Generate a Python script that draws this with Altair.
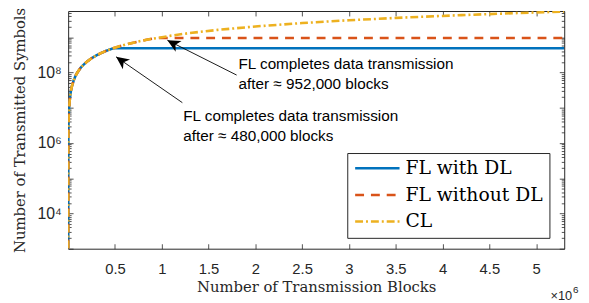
import altair as alt
import pandas as pd

# ---------------- data ----------------
series_names = ["FL with DL", "FL without DL", "CL"]
series_colors = ["#0072BD", "#D95319", "#EDB120"]
series_dashes = [[1, 0], [9, 7], [8, 3, 2, 3]]

# Cumulative transmitted symbols vs. number of transmission blocks
fl_dl_blocks = [1, 1000, 3000, 6000, 10000, 15000, 20000, 30000, 40000, 60000,
                80000, 100000, 130000, 160000, 200000, 250000, 300000, 350000,
                400000, 480000, 5300000]
fl_dl_symbols = [1.02e3, 1.0e6, 3.1e6, 6.1e6, 1.0e7, 1.5e7, 2.0e7, 3.1e7, 4.1e7, 6.1e7,
                 8.2e7, 1.02e8, 1.33e8, 1.63e8, 2.04e8, 2.55e8, 3.06e8, 3.57e8,
                 4.08e8, 4.9e8, 4.9e8]

fl_nodl_blocks = [1, 1000, 3000, 6000, 10000, 15000, 20000, 30000, 40000, 60000,
                  80000, 100000, 130000, 160000, 200000, 250000, 300000, 350000,
                  400000, 480000, 550000, 650000, 750000, 850000, 952000, 5300000]
fl_nodl_symbols = [1.02e3, 1.0e6, 3.1e6, 6.1e6, 1.0e7, 1.5e7, 2.0e7, 3.1e7, 4.1e7, 6.1e7,
                   8.2e7, 1.02e8, 1.33e8, 1.63e8, 2.04e8, 2.55e8, 3.06e8, 3.57e8,
                   4.08e8, 4.9e8, 5.6e8, 6.6e8, 7.6e8, 8.7e8, 9.6e8, 9.6e8]

cl_blocks = [1, 1000, 3000, 6000, 10000, 15000, 20000, 30000, 40000, 60000,
             80000, 100000, 130000, 160000, 200000, 250000, 300000, 350000,
             400000, 480000, 550000, 650000, 750000, 850000, 952000, 1100000,
             1300000, 1600000, 2000000, 2500000, 3000000, 3600000, 4200000,
             4800000, 5300000]
cl_symbols = [1.02e3, 1.0e6, 3.1e6, 6.1e6, 1.0e7, 1.5e7, 2.0e7, 3.1e7, 4.1e7, 6.1e7,
              8.2e7, 1.02e8, 1.33e8, 1.63e8, 2.04e8, 2.55e8, 3.06e8, 3.57e8,
              4.08e8, 4.9e8, 5.6e8, 6.6e8, 7.6e8, 8.7e8, 9.6e8, 1.12e9,
              1.33e9, 1.63e9, 2.04e9, 2.55e9, 3.06e9, 3.67e9, 4.28e9,
              4.9e9, 5.4e9]

# axis ticks
x_ticks = [500000, 1000000, 1500000, 2000000, 2500000, 3000000, 3500000,
           4000000, 4500000, 5000000]
y_major = [1e3, 1e4, 1e5, 1e6, 1e7, 1e8, 1e9]
y_minor = [m * 10.0 ** k for k in range(3, 10) for m in range(2, 10) if m * 10.0 ** k <= 5.5e9]

# annotations (data coordinates)
arrow_tail_x = [1800000, 1220000]
arrow_tail_y = [8.5e7, 1.4e7]
arrow_tip_x = [1060000, 512000]
arrow_tip_y = [8.3e8, 2.8e8]
arrow_angle = [299, 306]

note_x = [1820000, 1820000, 1230000, 1230000]
note_y = [1.75e8, 4.6e7, 6.0e6, 1.56e6]
note_text = ["FL completes data transmission", "after \u2248 952,000 blocks",
             "FL completes data transmission", "after \u2248 480,000 blocks"]

# ---------------- build tables ----------------
frames = []
for name, bx, sy in [(series_names[0], fl_dl_blocks, fl_dl_symbols),
                     (series_names[1], fl_nodl_blocks, fl_nodl_symbols),
                     (series_names[2], cl_blocks, cl_symbols)]:
    frames.append(pd.DataFrame({"blocks": bx, "symbols": sy, "series": name}))
lines_df = pd.concat(frames, ignore_index=True)

arrows_df = pd.DataFrame({"x": arrow_tail_x, "y": arrow_tail_y,
                          "x2": arrow_tip_x, "y2": arrow_tip_y, "angle": arrow_angle})
notes_df = pd.DataFrame({"x": note_x, "y": note_y, "text": note_text})

# ---------------- styling ----------------
AX = "#262626"
SANS = "Liberation Sans"
SERIF = "DejaVu Serif"

xscale = alt.Scale(type="linear", domain=[0, 5300000], nice=False, zero=False)
yscale = alt.Scale(type="log", domain=[1e3, 5.6e9], nice=False)
cscale = alt.Scale(domain=series_names, range=series_colors)
dscale = alt.Scale(domain=series_names, range=series_dashes)

common = dict(grid=False, domain=False, tickColor=AX, tickWidth=0.8,
              labelColor=AX, titleColor=AX)

x_bottom = alt.Axis(orient="bottom", values=x_ticks, offset=-5, tickSize=5,
                    labelExpr="format(datum.value / 1000000, '~g')",
                    labelFont=SANS, labelFontSize=15, labelPadding=13,
                    labelFlush=False, labelOverlap=False,
                    title="Number of Transmission Blocks", titleFont=SERIF,
                    titleFontSize=15, titleFontWeight="normal", titlePadding=3,
                    **common)
x_top = alt.Axis(orient="top", values=x_ticks, offset=-5, tickSize=5,
                 labels=False, title=None, **common)

y_label_expr = ("datum.value == 10000 ? '10\u2074' : datum.value == 1000000 ? '10\u2076' : "
                "datum.value == 100000000 ? '10\u2078' : ''")
y_left_major = alt.Axis(orient="left", values=y_major, offset=-5, tickSize=5,
                        labelExpr=y_label_expr, labelFont=SANS, labelFontSize=16,
                        labelPadding=7, labelOverlap=False, labelFlush=False,
                        title="Number of Transmitted Symbols", titleFont=SERIF,
                        titleFontSize=15, titleFontWeight="normal", titlePadding=10,
                        **common)
y_left_minor = alt.Axis(orient="left", values=y_minor, offset=-3, tickSize=3,
                        labels=False, title=None, **common)
y_right_major = alt.Axis(orient="right", values=y_major, offset=-5, tickSize=5,
                         labels=False, title=None, **common)
y_right_minor = alt.Axis(orient="right", values=y_minor, offset=-3, tickSize=3,
                         labels=False, title=None, **common)

leg = alt.Legend(orient="none", legendX=283, legendY=144, title=None,
                 fillColor="white", strokeColor=AX, padding=6, cornerRadius=0,
                 symbolType="M-1,0L5,0", symbolSize=225, symbolStrokeWidth=2.6,
                 labelFont=SERIF, labelFontSize=19, labelColor="black",
                 labelExpr="datum.label + '\u2002'",
                 labelOffset=34, rowPadding=7)


def line_layer(name, xaxis, yaxis):
    return alt.Chart(lines_df).transform_filter(
        alt.datum.series == name
    ).mark_line(strokeWidth=2.6, clip=True).encode(
        x=alt.X("blocks:Q", scale=xscale, axis=xaxis),
        y=alt.Y("symbols:Q", scale=yscale, axis=yaxis),
        color=alt.Color("series:N", scale=cscale, legend=leg),
        strokeDash=alt.StrokeDash("series:N", scale=dscale, legend=leg),
        order=alt.Order("blocks:Q"),
    )


blue = line_layer(series_names[0], x_bottom, y_left_major)
orange = line_layer(series_names[1], x_top, y_left_minor)
yellow = line_layer(series_names[2], None, y_right_major)

shafts = alt.Chart(arrows_df).mark_rule(color="black", strokeWidth=0.9).encode(
    x=alt.X("x:Q", scale=xscale, axis=None),
    y=alt.Y("y:Q", scale=yscale, axis=y_right_minor),
    x2="x2:Q",
    y2="y2:Q",
)

heads = alt.Chart(arrows_df).mark_point(
    shape="M0,0L0.95,2L0,1.45L-0.95,2Z", filled=True, color="black",
    size=169, opacity=1, strokeWidth=0
).encode(
    x=alt.X("x2:Q", scale=xscale, axis=None),
    y=alt.Y("y2:Q", scale=yscale, axis=None),
    angle=alt.Angle("angle:Q", scale=None),
)

notes = alt.Chart(notes_df).mark_text(
    align="left", baseline="middle", font=SANS, fontSize=15.5, color="black"
).encode(
    x=alt.X("x:Q", scale=xscale, axis=None),
    y=alt.Y("y:Q", scale=yscale, axis=None),
    text="text:N",
)

exp_base = alt.Chart(pd.DataFrame({"t": ["\u00d710"]})).mark_text(
    align="left", baseline="alphabetic", font=SANS, fontSize=13, color=AX
).encode(x=alt.value(489), y=alt.value(293), text="t:N")

exp_power = alt.Chart(pd.DataFrame({"t": ["6"]})).mark_text(
    align="left", baseline="alphabetic", font=SANS, fontSize=10, color=AX
).encode(x=alt.value(512), y=alt.value(286), text="t:N")

chart = alt.layer(blue, orange, yellow, shafts, heads, notes,
                  exp_base, exp_power).resolve_axis(
    x="independent", y="independent"
).properties(
    width=503, height=241,
    autosize=alt.AutoSizeParams(type="none"),
    padding={"left": 61, "top": 1, "right": 17, "bottom": 53},
).configure_view(stroke=AX, strokeWidth=1)

chart.save("out.html", embed_options={"renderer": "svg", "actions": False})
